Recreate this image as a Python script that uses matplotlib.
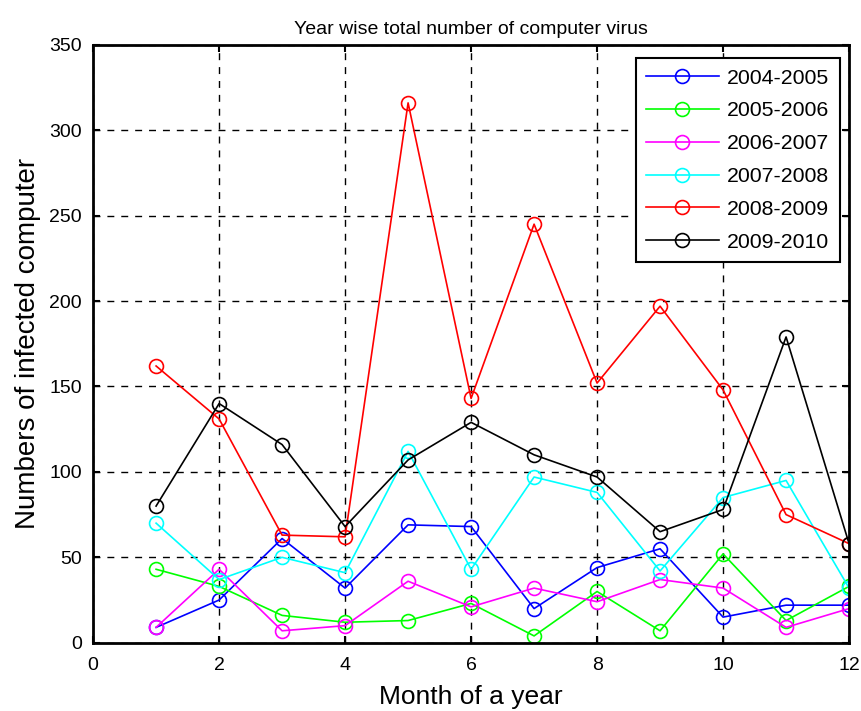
import matplotlib
matplotlib.use("Agg")
import matplotlib.pyplot as plt

plt.rcParams['font.family'] = ['Liberation Sans', 'DejaVu Sans']

months = list(range(1, 13))

virus_04_05 = [9, 25, 61, 32, 69, 68, 20, 44, 55, 15, 22, 22]
virus_05_06 = [43, 33, 16, 12, 13, 23, 4, 30, 7, 52, 13, 33]
virus_06_07 = [9, 43, 7, 10, 36, 21, 32, 24, 37, 32, 9, 20]
virus_07_08 = [70, 37, 50, 41, 112, 43, 97, 88, 42, 85, 95, 32]
virus_08_09 = [162, 131, 63, 62, 316, 143, 245, 152, 197, 148, 75, 58]
virus_09_10 = [80, 140, 116, 68, 107, 129, 110, 97, 65, 78, 179, 58]

series = [
    ("2004-2005", virus_04_05, "#0000ff"),
    ("2005-2006", virus_05_06, "#00ff00"),
    ("2006-2007", virus_06_07, "#ff00ff"),
    ("2007-2008", virus_07_08, "#00ffff"),
    ("2008-2009", virus_08_09, "#ff0000"),
    ("2009-2010", virus_09_10, "#000000"),
]

fig = plt.figure(figsize=(8.62, 7.11), dpi=100)
ax = fig.add_axes([0.108, 0.096, 0.877, 0.841])

for label, values, color in series:
    ax.plot(months, values, color=color, marker="o", markersize=10,
            markerfacecolor="none", markeredgewidth=1.2, linewidth=1.2,
            label=label)

ax.set_xlim(0, 12)
ax.set_ylim(0, 350)
ax.set_xticks(range(0, 13, 2))
ax.set_yticks(range(0, 351, 50))
ax.grid(True, color="black", linestyle=(0, (5, 5)), linewidth=1.0)
ax.tick_params(direction="in", top=True, right=True, labelsize=14,
               length=5, width=1.5)
ax.tick_params(axis="x", pad=10)
ax.tick_params(axis="y", pad=8)
for spine in ax.spines.values():
    spine.set_linewidth(2)

ax.set_title("Year wise total number of computer virus", fontsize=14, pad=8)
ax.set_xlabel("Month of a year", fontsize=19, labelpad=8)
ax.set_ylabel("Numbers of infected computer", fontsize=20, labelpad=6)

leg = ax.legend(loc="upper right", fontsize=15.3, fancybox=False,
                framealpha=1, edgecolor="black", handlelength=3.4,
                handletextpad=0.4, borderpad=0.5, labelspacing=0.65,
                bbox_to_anchor=(840 / 862, 1 - 58 / 711),
                bbox_transform=fig.transFigure, borderaxespad=0)
leg.get_frame().set_linewidth(1.5)

fig.savefig("out.png", dpi=100)
